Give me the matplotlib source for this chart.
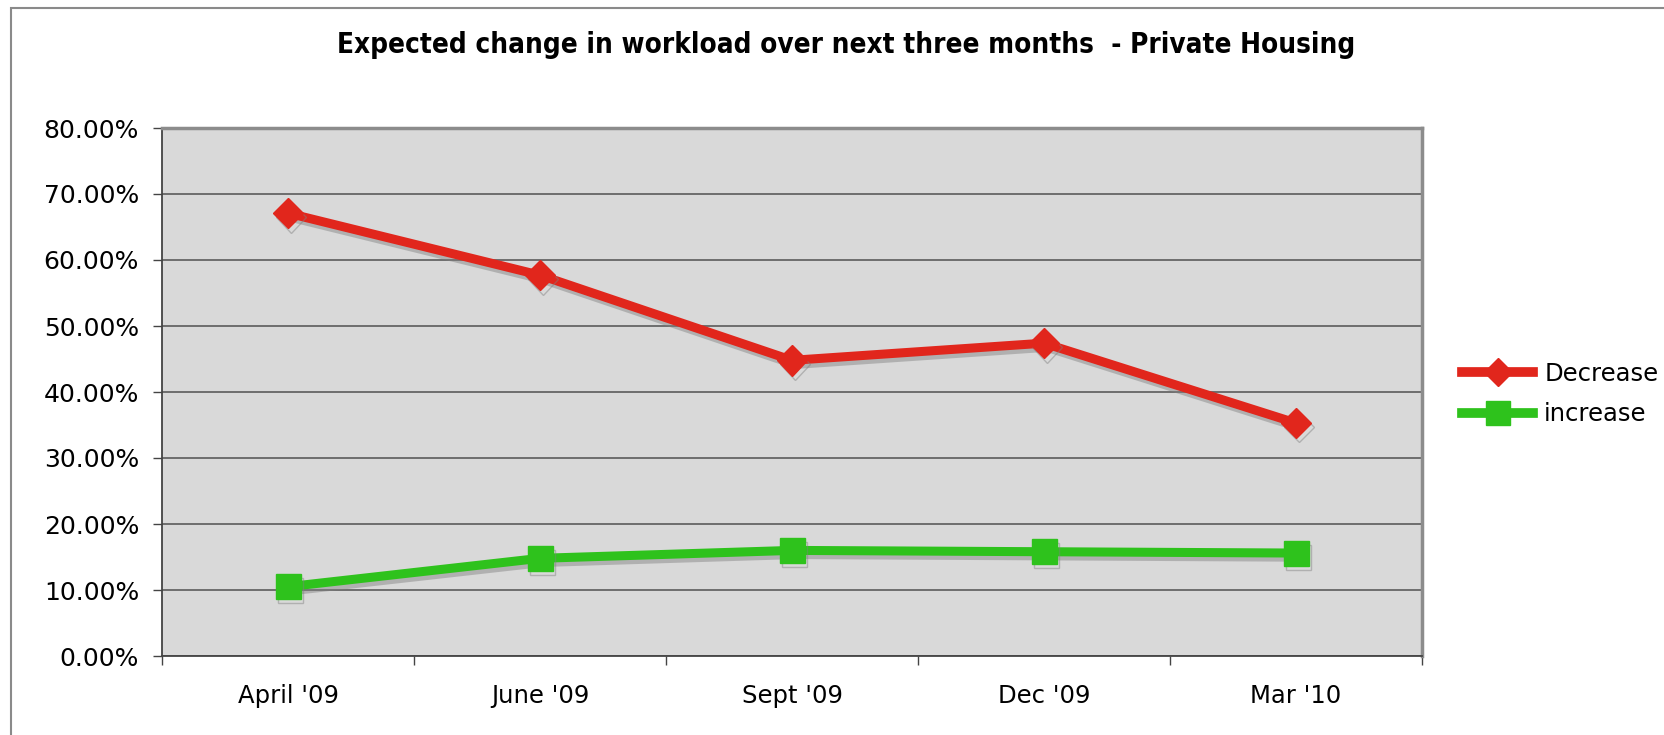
import matplotlib
matplotlib.use("Agg")
import matplotlib.pyplot as plt
import matplotlib.patheffects as pe
from matplotlib.patches import Rectangle
from matplotlib.lines import Line2D
from matplotlib.ticker import FuncFormatter, FixedLocator
import numpy as np

categories = ["April '09", "June '09", "Sept '09", "Dec '09", "Mar '10"]
decrease = [67.1, 57.7, 44.8, 47.4, 35.3]
increase = [10.5, 14.8, 16.0, 15.8, 15.6]
yticks = [0, 10, 20, 30, 40, 50, 60, 70, 80]
title = "Expected change in workload over next three months  - Private Housing"

RED = "#e1261c"
GREEN = "#2ec21c"

W, H = 1664, 735
fig = plt.figure(figsize=(W / 100, H / 100), dpi=100)
fig.patch.set_facecolor("white")

# outer frame
fig.add_artist(Rectangle((11 / W, -0.05), 1.2, 1.05 - 8 / H, transform=fig.transFigure,
                         fill=False, edgecolor="#8a8a8a", lw=1.5))

ax = fig.add_axes([162 / W, 1 - 656 / H, (1422 - 162) / W, (656 - 128) / H])
ax.set_facecolor("#d9d9d9")

x = np.arange(len(categories))
shadow = [pe.SimpleLineShadow(offset=(2, -3), shadow_color="#808080", alpha=0.45), pe.Normal()]
ax.plot(x, decrease, color=RED, lw=6.5, marker="D", ms=15.5, mec=RED,
        path_effects=shadow, zorder=4)
ax.plot(x, increase, color=GREEN, lw=6.5, marker="s", ms=18, mec=GREEN,
        path_effects=shadow, zorder=3)

ax.set_xlim(-0.5, len(categories) - 0.5)
ax.set_ylim(0, 80)
ax.set_yticks(yticks)
ax.yaxis.set_major_formatter(FuncFormatter(lambda v, p: f"{v:.2f}%"))
ax.set_xticks(x)
ax.set_xticklabels(categories)
ax.xaxis.set_minor_locator(FixedLocator(np.arange(-0.5, len(categories), 1.0)))

ax.tick_params(axis="y", direction="out", length=6.5, width=1, color="#444444",
               labelsize=18, pad=10, labelcolor="black")
ax.tick_params(axis="x", which="major", length=0, labelsize=17.5, pad=20)
ax.tick_params(axis="x", which="minor", direction="out", length=6.5, width=1, color="#444444")

ax.grid(axis="y", color="#505050", lw=1.1)
ax.set_axisbelow(True)
for s in ["left", "bottom"]:
    ax.spines[s].set_color("#444444")
    ax.spines[s].set_linewidth(1.3)
for s in ["top", "right"]:
    ax.spines[s].set_color("#8c8c8c")
    ax.spines[s].set_linewidth(2.5)

fig.text(846 / W, 1 - 45 / H, title, ha="center", va="center", fontsize=20,
         fontweight="bold", fontstretch="condensed")

handles = [Line2D([], [], color=RED, lw=7, marker="D", ms=14, mec=RED),
           Line2D([], [], color=GREEN, lw=7, marker="s", ms=17, mec=GREEN)]
fig.legend(handles, ["Decrease", "increase"], loc="center left",
           bbox_to_anchor=(1462 / W, 1 - 394 / H), frameon=False,
           fontsize=17.5, handlelength=2.93, handletextpad=0.45, labelspacing=0.68,
           borderaxespad=0, borderpad=0)

fig.savefig("out.png", dpi=100, facecolor="white")
